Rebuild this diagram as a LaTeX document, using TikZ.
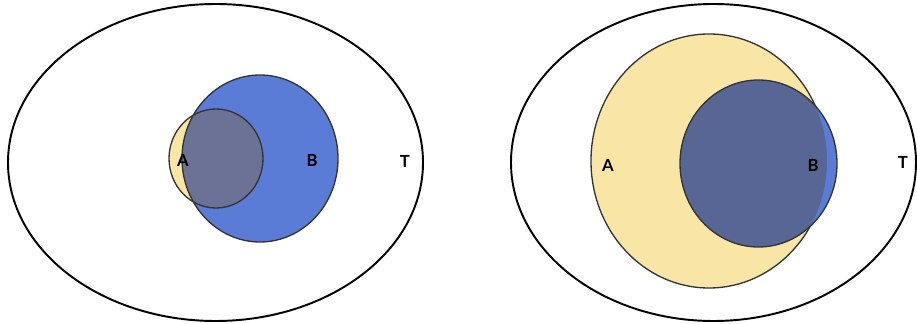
\documentclass[tikz,border=0pt]{standalone}
\usepackage{fontspec}
\setsansfont{Lato}
\definecolor{seta}{HTML}{F9E6A6}
\definecolor{setb}{HTML}{5B7CD6}
\definecolor{both}{HTML}{6B7296}
\definecolor{bothr}{HTML}{586696}
\tikzset{univ/.style={draw=black,line width=1.1pt},ring/.style={draw=black!80,line width=0.75pt},lab/.style={font=\sffamily\bfseries\fontsize{9.5}{11}\selectfont,inner sep=0pt}}
\begin{document}
\begin{tikzpicture}[x=0.02cm,y=-0.02cm]
\useasboundingbox (0,0) rectangle (917,324);
\draw[univ] (215.5,162.5) ellipse (207.5 and 158.5);
\draw[univ] (713.5,162.5) ellipse (202.5 and 158.5);
\fill[setb] (260,158.5) ellipse (78 and 83.5);
\fill[seta] (216,158.5) ellipse (47 and 49.5);
\begin{scope}
\clip (260,158.5) ellipse (78 and 83.5);
\fill[both] (216,158.5) ellipse (47 and 49.5);
\end{scope}
\draw[ring] (260,158.5) ellipse (78 and 83.5);
\draw[ring] (216,158.5) ellipse (47 and 49.5);
\draw[ring,fill=seta] (709,161) ellipse (118 and 127);
\fill[setb] (758.5,163.5) ellipse (78.5 and 83.5);
\begin{scope}
\clip (709,161) ellipse (118 and 127);
\fill[bothr] (758.5,163.5) ellipse (78.5 and 83.5);
\end{scope}
\draw[ring] (758.5,163.5) ellipse (78.5 and 83.5);
\node[lab] (a1) at (183,160) {A};
\node[lab] (b1) at (312,160) {B};
\node[lab] (t1) at (405,161) {T};
\node[lab] (a2) at (608,165) {A};
\node[lab] (b2) at (813,165) {B};
\node[lab] (t2) at (903,162) {T};
\end{tikzpicture}
\end{document}
